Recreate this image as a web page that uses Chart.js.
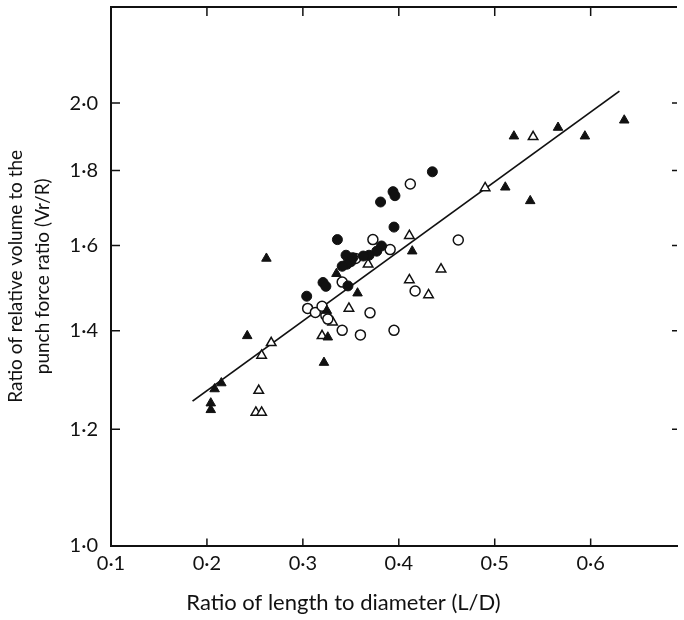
<!DOCTYPE html>
<html>
<head>
<meta charset="utf-8">
<script src="https://cdn.jsdelivr.net/npm/chart.js@4"></script>
<style>
    body { margin: 0; background: #fff; }
</style>
</head>
<body>
<canvas id="ld-chart" width="684" height="620"></canvas>
<script>
const FONT = 'Lato, "Open Sans", sans-serif';
const INK = '#111';

// tick values
const xTicks = [0.1, 0.2, 0.3, 0.4, 0.5, 0.6];
const yTicks = [1.0, 1.2, 1.4, 1.6, 1.8, 2.0];

// filled circles
const fcX = [0.435, 0.394, 0.396, 0.381, 0.395, 0.336, 0.382, 0.377, 0.369, 0.363, 0.345, 0.352, 0.350, 0.346, 0.341, 0.321, 0.324, 0.347, 0.304];
const fcY = [1.796, 1.741, 1.730, 1.713, 1.647, 1.615, 1.599, 1.586, 1.576, 1.574, 1.576, 1.570, 1.560, 1.554, 1.549, 1.510, 1.501, 1.502, 1.478];

// open circles
const ocX = [0.412, 0.373, 0.462, 0.391, 0.355, 0.341, 0.417, 0.305, 0.313, 0.320, 0.324, 0.326, 0.370, 0.341, 0.360, 0.395];
const ocY = [1.762, 1.615, 1.614, 1.590, 1.568, 1.511, 1.490, 1.450, 1.441, 1.455, 1.434, 1.426, 1.440, 1.401, 1.391, 1.401];

// filled triangles
const ftX = [0.635, 0.520, 0.566, 0.594, 0.511, 0.537, 0.414, 0.335, 0.357, 0.262, 0.242, 0.326, 0.322, 0.215, 0.208, 0.204, 0.204, 0.325];
const ftY = [1.947, 1.899, 1.925, 1.899, 1.753, 1.716, 1.586, 1.531, 1.485, 1.568, 1.389, 1.386, 1.332, 1.290, 1.278, 1.250, 1.237, 1.445];

// open triangles
const otX = [0.540, 0.490, 0.411, 0.368, 0.444, 0.411, 0.431, 0.348, 0.331, 0.320, 0.267, 0.257, 0.254, 0.251, 0.257];
const otY = [1.897, 1.751, 1.625, 1.554, 1.542, 1.516, 1.481, 1.450, 1.419, 1.389, 1.374, 1.347, 1.275, 1.232, 1.232];

// fitted line end points
const fitX = [0.185, 0.630];
const fitY = [1.254, 2.038];

function pts(xs, ys) {
    return xs.map((x, i) => ({ x: x, y: ys[i] }));
}

function fmt(v) {
    return v.toFixed(1).replace('.', '\u00b7');
}

// ticks point inward on all four sides, plus the top frame line
const frameTicks = {
    id: 'frameTicks',
    afterDraw(chart) {
        const { ctx, chartArea: a, scales: { x, y } } = chart;
        ctx.save();
        ctx.strokeStyle = INK;
        ctx.lineWidth = 2;
        ctx.beginPath();
        ctx.moveTo(a.left - 1, a.top);
        ctx.lineTo(a.right, a.top);
        ctx.stroke();
        ctx.lineWidth = 1.5;
        x.ticks.forEach(t => {
            if (t.value <= 0.1) return;
            const px = x.getPixelForValue(t.value);
            ctx.beginPath();
            ctx.moveTo(px, a.bottom);
            ctx.lineTo(px, a.bottom - 7);
            ctx.moveTo(px, a.top);
            ctx.lineTo(px, a.top + 9);
            ctx.stroke();
        });
        y.ticks.forEach(t => {
            if (t.value <= 1.0) return;
            const py = y.getPixelForValue(t.value);
            ctx.beginPath();
            ctx.moveTo(a.left, py);
            ctx.lineTo(a.left + 9, py);
            ctx.moveTo(a.right, py);
            ctx.lineTo(a.right - 5, py);
            ctx.stroke();
        });
        ctx.restore();
    }
};

new Chart(document.getElementById('ld-chart'), {
    type: 'scatter',
    data: {
        datasets: [
            {
                type: 'line',
                data: pts(fitX, fitY),
                borderColor: INK,
                borderWidth: 1.8,
                pointRadius: 0,
                order: 10
            },
            {
                data: pts(fcX, fcY),
                pointStyle: 'circle',
                pointRadius: 5,
                backgroundColor: INK,
                borderColor: INK,
                order: 1
            },
            {
                data: pts(ocX, ocY),
                pointStyle: 'circle',
                pointRadius: 5,
                backgroundColor: '#fff',
                borderColor: INK,
                borderWidth: 1.5,
                order: 2
            },
            {
                data: pts(ftX, ftY),
                pointStyle: 'triangle',
                pointRadius: 5.5,
                backgroundColor: INK,
                borderColor: INK,
                order: 1
            },
            {
                data: pts(otX, otY),
                pointStyle: 'triangle',
                pointRadius: 5.5,
                backgroundColor: '#fff',
                borderColor: INK,
                borderWidth: 1.5,
                order: 2
            }
        ]
    },
    options: {
        responsive: false,
        animation: false,
        layout: {
            padding: { left: 3, top: 6, right: 0, bottom: 4 }
        },
        plugins: {
            legend: { display: false },
            tooltip: { enabled: false },
            title: {
                display: true,
                position: 'bottom',
                text: 'Ratio of length to diameter (L/D)',
                color: INK,
                font: { family: FONT, size: 22, weight: 'normal' },
                padding: { top: 8, bottom: 0 }
            }
        },
        scales: {
            x: {
                type: 'linear',
                min: 0.1,
                max: 0.69,
                afterFit: s => { s.height = 36; },
                afterBuildTicks: s => { s.ticks = xTicks.map(v => ({ value: v })); },
                grid: { display: false, drawTicks: false },
                border: { display: true, color: INK, width: 2 },
                ticks: {
                    padding: 6,
                    color: INK,
                    font: { family: FONT, size: 20 },
                    callback: v => fmt(v)
                }
            },
            y: {
                type: 'logarithmic',
                min: 1.0,
                max: 2.325,
                afterFit: s => {
                    s.width = 108;
                    s.paddingTop = 0;
                    s.paddingBottom = 0;
                },
                afterBuildTicks: s => { s.ticks = yTicks.map(v => ({ value: v })); },
                grid: { display: false, drawTicks: false },
                border: { display: true, color: INK, width: 2 },
                ticks: {
                    padding: 13,
                    color: INK,
                    font: { family: FONT, size: 20 },
                    callback: v => fmt(v)
                },
                title: {
                    display: true,
                    text: ['Ratio of relative volume to the', 'punch force ratio (Vr/R)'],
                    color: INK,
                    font: { family: FONT, size: 19, lineHeight: 1.4 },
                    padding: { top: 0, bottom: 0 }
                }
            }
        }
    },
    plugins: [frameTicks]
});
</script>
</body>
</html>
